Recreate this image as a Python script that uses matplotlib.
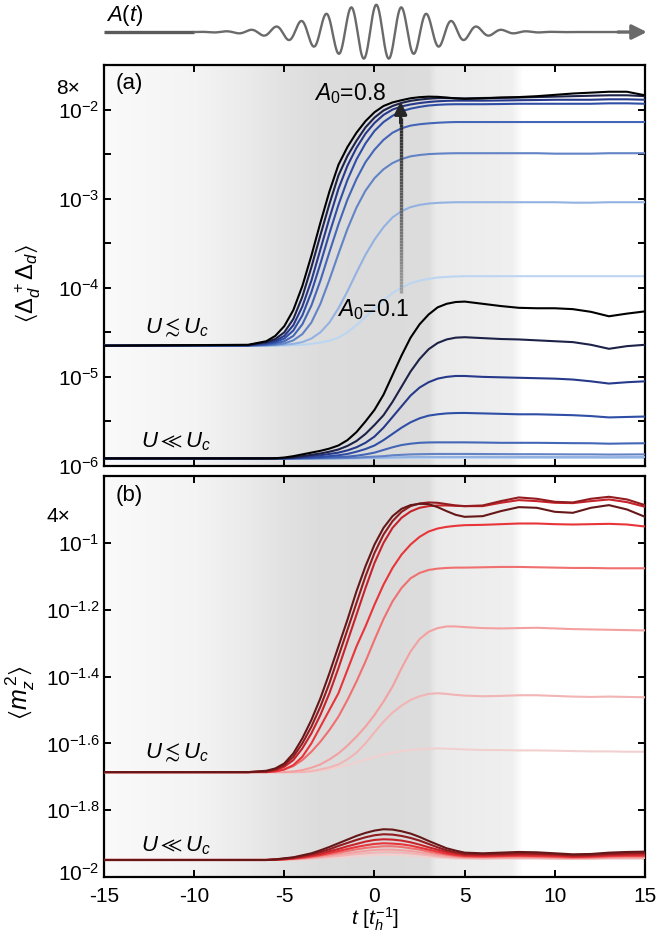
import numpy as np
import matplotlib
matplotlib.use('Agg')
import matplotlib.pyplot as plt
import matplotlib.transforms as mtransforms
from matplotlib.collections import LineCollection
from matplotlib.ticker import FixedLocator, FixedFormatter, NullLocator

plt.rcParams['font.family'] = ['Liberation Sans', 'DejaVu Sans']
plt.rcParams['mathtext.fontset'] = 'custom'
plt.rcParams['mathtext.rm'] = 'Liberation Sans'
plt.rcParams['mathtext.it'] = 'Liberation Sans:italic'
plt.rcParams['mathtext.bf'] = 'Liberation Sans:bold'
plt.rcParams['mathtext.fallback'] = 'stixsans'
plt.rcParams['axes.unicode_minus'] = False

# time grid (units of 1/t_h), shared by every curve
t = [-15, -7, -6, -5.5, -5, -4.5, -4, -3.5, -3, -2.5, -2, -1.5, -1, -0.5, 0, 0.5, 1, 1.5,
     2, 2.5, 3, 3.5, 4, 4.5, 5, 6, 7, 8, 9, 10, 11, 12, 13, 14, 15]
amps = [0.1, 0.2, 0.3, 0.4, 0.5, 0.6, 0.7, 0.8]

# (a) log10 <Delta_d^+ Delta_d>, U close to Uc, A0 = 0.1 ... 0.8
pair_near = [
    [-4.65, -4.65, -4.65, -4.65, -4.65, -4.645, -4.64, -4.63, -4.615, -4.595, -4.56, -4.50, -4.42, -4.33, -4.23, -4.14, -4.06, -4.00,
     -3.95, -3.92, -3.90, -3.885, -3.878, -3.873, -3.87, -3.87, -3.87, -3.87, -3.87, -3.87, -3.87, -3.87, -3.87, -3.87, -3.87],
    [-4.65, -4.65, -4.648, -4.645, -4.64, -4.63, -4.61, -4.57, -4.50, -4.39, -4.23, -4.04, -3.83, -3.63, -3.46, -3.32, -3.21, -3.14,
     -3.095, -3.07, -3.055, -3.047, -3.043, -3.04, -3.04, -3.04, -3.04, -3.04, -3.04, -3.04, -3.045, -3.045, -3.04, -3.04, -3.04],
    [-4.65, -4.65, -4.645, -4.64, -4.625, -4.59, -4.52, -4.39, -4.18, -3.91, -3.62, -3.34, -3.10, -2.91, -2.77, -2.67, -2.60, -2.555,
     -2.525, -2.51, -2.50, -2.495, -2.492, -2.49, -2.49, -2.49, -2.49, -2.49, -2.49, -2.495, -2.495, -2.495, -2.49, -2.49, -2.49],
    [-4.65, -4.648, -4.64, -4.625, -4.60, -4.54, -4.41, -4.20, -3.92, -3.60, -3.29, -3.01, -2.78, -2.59, -2.45, -2.34, -2.26, -2.21,
     -2.18, -2.165, -2.155, -2.148, -2.143, -2.14, -2.14, -2.14, -2.14, -2.14, -2.14, -2.14, -2.14, -2.14, -2.14, -2.14, -2.14],
    [-4.65, -4.646, -4.63, -4.61, -4.57, -4.48, -4.31, -4.05, -3.73, -3.39, -3.07, -2.79, -2.56, -2.38, -2.24, -2.14, -2.07, -2.02,
     -1.99, -1.97, -1.955, -1.947, -1.942, -1.94, -1.94, -1.94, -1.938, -1.935, -1.935, -1.935, -1.935, -1.935, -1.93, -1.93, -1.935],
    [-4.65, -4.645, -4.62, -4.595, -4.54, -4.42, -4.21, -3.92, -3.57, -3.22, -2.89, -2.63, -2.43, -2.27, -2.15, -2.06, -2.00, -1.965,
     -1.943, -1.927, -1.915, -1.907, -1.902, -1.90, -1.90, -1.90, -1.898, -1.895, -1.893, -1.89, -1.89, -1.89, -1.885, -1.885, -1.89],
    [-4.65, -4.643, -4.61, -4.575, -4.50, -4.35, -4.10, -3.77, -3.41, -3.06, -2.74, -2.52, -2.35, -2.20, -2.09, -2.01, -1.96, -1.925,
     -1.902, -1.888, -1.878, -1.872, -1.87, -1.872, -1.875, -1.87, -1.868, -1.865, -1.86, -1.855, -1.85, -1.845, -1.84, -1.84, -1.85],
    [-4.65, -4.64, -4.60, -4.54, -4.43, -4.25, -3.98, -3.64, -3.27, -2.92, -2.62, -2.42, -2.26, -2.13, -2.03, -1.96, -1.92, -1.895,
     -1.873, -1.861, -1.855, -1.857, -1.865, -1.875, -1.88, -1.875, -1.865, -1.86, -1.85, -1.835, -1.82, -1.81, -1.80, -1.80, -1.84],
]

# (a) U much smaller than Uc
pair_weak = [
    [-5.915, -5.915, -5.915, -5.915, -5.915, -5.915, -5.915, -5.915, -5.915, -5.915, -5.915, -5.915, -5.915, -5.914, -5.914, -5.913, -5.912, -5.911,
     -5.91, -5.91, -5.91, -5.91, -5.91, -5.91, -5.91, -5.91, -5.91, -5.91, -5.91, -5.91, -5.91, -5.91, -5.91, -5.91, -5.91],
    [-5.915, -5.915, -5.915, -5.915, -5.915, -5.915, -5.915, -5.915, -5.915, -5.915, -5.914, -5.913, -5.912, -5.91, -5.908, -5.906, -5.904, -5.902,
     -5.90, -5.899, -5.899, -5.898, -5.898, -5.898, -5.898, -5.898, -5.899, -5.899, -5.899, -5.90, -5.90, -5.90, -5.901, -5.90, -5.90],
    [-5.915, -5.915, -5.915, -5.915, -5.915, -5.915, -5.915, -5.915, -5.914, -5.913, -5.912, -5.91, -5.907, -5.90, -5.895, -5.89, -5.88, -5.875,
     -5.87, -5.868, -5.866, -5.865, -5.865, -5.865, -5.865, -5.866, -5.867, -5.868, -5.868, -5.869, -5.87, -5.87, -5.872, -5.871, -5.87],
    [-5.915, -5.915, -5.915, -5.915, -5.915, -5.915, -5.914, -5.912, -5.91, -5.905, -5.90, -5.895, -5.885, -5.87, -5.85, -5.82, -5.79, -5.765,
     -5.75, -5.74, -5.736, -5.735, -5.735, -5.735, -5.735, -5.737, -5.74, -5.74, -5.74, -5.742, -5.744, -5.745, -5.75, -5.747, -5.745],
    [-5.915, -5.915, -5.915, -5.915, -5.915, -5.913, -5.91, -5.905, -5.90, -5.89, -5.88, -5.865, -5.84, -5.81, -5.77, -5.71, -5.64, -5.57,
     -5.51, -5.465, -5.435, -5.42, -5.41, -5.406, -5.405, -5.41, -5.415, -5.42, -5.42, -5.425, -5.43, -5.44, -5.455, -5.45, -5.445],
    [-5.915, -5.915, -5.915, -5.915, -5.914, -5.91, -5.90, -5.89, -5.88, -5.865, -5.85, -5.825, -5.79, -5.74, -5.67, -5.57, -5.45, -5.33,
     -5.21, -5.12, -5.06, -5.02, -5.00, -4.99, -4.99, -5.00, -5.005, -5.01, -5.015, -5.02, -5.03, -5.05, -5.075, -5.06, -5.05],
    [-5.915, -5.915, -5.915, -5.915, -5.912, -5.905, -5.89, -5.875, -5.86, -5.84, -5.815, -5.775, -5.72, -5.64, -5.54, -5.43, -5.28, -5.11,
     -4.94, -4.80, -4.69, -4.62, -4.58, -4.56, -4.555, -4.565, -4.575, -4.58, -4.59, -4.60, -4.61, -4.64, -4.685, -4.655, -4.64],
    [-5.915, -5.915, -5.915, -5.913, -5.905, -5.89, -5.87, -5.85, -5.83, -5.805, -5.77, -5.71, -5.62, -5.50, -5.37, -5.20, -4.98, -4.76,
     -4.56, -4.41, -4.30, -4.22, -4.18, -4.16, -4.155, -4.18, -4.205, -4.225, -4.23, -4.23, -4.24, -4.27, -4.32, -4.29, -4.265],
]

# (b) log10 <m_z^2>, U close to Uc
mag_near = [
    [-1.686, -1.686, -1.686, -1.686, -1.686, -1.686, -1.686, -1.685, -1.682, -1.677, -1.671, -1.665, -1.657, -1.649, -1.641, -1.634, -1.628, -1.624,
     -1.62, -1.618, -1.616, -1.615, -1.616, -1.617, -1.618, -1.62, -1.62, -1.621, -1.621, -1.622, -1.623, -1.624, -1.624, -1.625, -1.625],
    [-1.686, -1.686, -1.686, -1.686, -1.686, -1.686, -1.686, -1.683, -1.678, -1.672, -1.663, -1.648, -1.628, -1.60, -1.567, -1.535, -1.508, -1.487,
     -1.47, -1.459, -1.452, -1.45, -1.452, -1.455, -1.457, -1.459, -1.458, -1.456, -1.456, -1.458, -1.46, -1.461, -1.46, -1.461, -1.462],
    [-1.686, -1.686, -1.686, -1.686, -1.686, -1.684, -1.68, -1.673, -1.663, -1.648, -1.63, -1.607, -1.58, -1.55, -1.515, -1.475, -1.43, -1.375,
     -1.325, -1.288, -1.266, -1.255, -1.25, -1.25, -1.252, -1.255, -1.256, -1.255, -1.254, -1.256, -1.258, -1.259, -1.26, -1.261, -1.262],
    [-1.686, -1.686, -1.685, -1.683, -1.678, -1.668, -1.65, -1.625, -1.595, -1.56, -1.52, -1.47, -1.415, -1.355, -1.29, -1.228, -1.175, -1.135,
     -1.106, -1.09, -1.081, -1.077, -1.075, -1.074, -1.074, -1.073, -1.072, -1.072, -1.073, -1.074, -1.075, -1.075, -1.076, -1.076, -1.076],
    [-1.686, -1.686, -1.686, -1.684, -1.678, -1.665, -1.64, -1.60, -1.55, -1.50, -1.45, -1.38, -1.31, -1.25, -1.185, -1.125, -1.075, -1.035,
     -1.005, -0.982, -0.966, -0.957, -0.952, -0.949, -0.947, -0.946, -0.944, -0.942, -0.942, -0.944, -0.945, -0.944, -0.943, -0.945, -0.951],
    [-1.686, -1.686, -1.685, -1.68, -1.67, -1.65, -1.615, -1.57, -1.515, -1.45, -1.375, -1.295, -1.215, -1.135, -1.06, -1.0, -0.955, -0.925,
     -0.906, -0.895, -0.89, -0.888, -0.888, -0.889, -0.89, -0.89, -0.88, -0.872, -0.875, -0.88, -0.881, -0.875, -0.87, -0.878, -0.892],
    [-1.686, -1.686, -1.684, -1.678, -1.665, -1.64, -1.60, -1.55, -1.49, -1.42, -1.34, -1.26, -1.18, -1.10, -1.03, -0.975, -0.935, -0.907,
     -0.89, -0.882, -0.879, -0.88, -0.884, -0.888, -0.89, -0.888, -0.875, -0.864, -0.868, -0.877, -0.879, -0.868, -0.862, -0.87, -0.887],
    [-1.686, -1.686, -1.682, -1.675, -1.66, -1.63, -1.585, -1.53, -1.465, -1.39, -1.31, -1.23, -1.145, -1.07, -1.005, -0.955, -0.92, -0.898,
     -0.887, -0.883, -0.884, -0.893, -0.905, -0.916, -0.922, -0.92, -0.905, -0.893, -0.895, -0.907, -0.91, -0.895, -0.887, -0.90, -0.922],
]

# (b) U much smaller than Uc
mag_weak = [
    [-1.949, -1.949, -1.949, -1.949, -1.948, -1.948, -1.947, -1.946, -1.944, -1.943, -1.941, -1.939, -1.937, -1.936, -1.935, -1.934, -1.934, -1.935,
     -1.936, -1.938, -1.940, -1.942, -1.943, -1.945, -1.945, -1.946, -1.945, -1.945, -1.945, -1.946, -1.946, -1.946, -1.945, -1.945, -1.945],
    [-1.949, -1.949, -1.949, -1.949, -1.948, -1.947, -1.946, -1.944, -1.942, -1.939, -1.937, -1.934, -1.931, -1.929, -1.927, -1.926, -1.926, -1.927,
     -1.929, -1.932, -1.935, -1.938, -1.940, -1.942, -1.943, -1.944, -1.943, -1.943, -1.943, -1.944, -1.945, -1.944, -1.943, -1.943, -1.943],
    [-1.949, -1.949, -1.949, -1.948, -1.947, -1.946, -1.944, -1.942, -1.939, -1.936, -1.932, -1.929, -1.925, -1.922, -1.919, -1.918, -1.918, -1.920,
     -1.922, -1.926, -1.930, -1.934, -1.937, -1.940, -1.942, -1.942, -1.942, -1.941, -1.941, -1.942, -1.943, -1.943, -1.942, -1.941, -1.941],
    [-1.949, -1.949, -1.949, -1.948, -1.947, -1.945, -1.943, -1.940, -1.936, -1.932, -1.927, -1.922, -1.917, -1.913, -1.910, -1.908, -1.908, -1.910,
     -1.914, -1.918, -1.924, -1.929, -1.933, -1.937, -1.939, -1.940, -1.939, -1.938, -1.939, -1.940, -1.942, -1.941, -1.939, -1.938, -1.938],
    [-1.949, -1.949, -1.949, -1.948, -1.947, -1.945, -1.942, -1.938, -1.934, -1.928, -1.922, -1.916, -1.910, -1.905, -1.901, -1.899, -1.900, -1.902,
     -1.906, -1.912, -1.918, -1.924, -1.930, -1.934, -1.937, -1.938, -1.937, -1.936, -1.937, -1.938, -1.940, -1.939, -1.937, -1.936, -1.936],
    [-1.949, -1.949, -1.949, -1.948, -1.946, -1.943, -1.940, -1.935, -1.930, -1.923, -1.916, -1.908, -1.901, -1.894, -1.889, -1.887, -1.888, -1.891,
     -1.896, -1.903, -1.911, -1.918, -1.925, -1.930, -1.934, -1.935, -1.934, -1.933, -1.933, -1.935, -1.938, -1.937, -1.934, -1.933, -1.932],
    [-1.949, -1.949, -1.949, -1.948, -1.945, -1.942, -1.937, -1.932, -1.925, -1.917, -1.907, -1.898, -1.889, -1.881, -1.875, -1.872, -1.873, -1.877,
     -1.883, -1.891, -1.901, -1.911, -1.920, -1.926, -1.931, -1.932, -1.931, -1.929, -1.930, -1.932, -1.935, -1.934, -1.931, -1.929, -1.928],
    [-1.949, -1.949, -1.949, -1.947, -1.944, -1.941, -1.935, -1.929, -1.920, -1.910, -1.899, -1.888, -1.877, -1.868, -1.861, -1.857, -1.858, -1.863,
     -1.870, -1.880, -1.892, -1.903, -1.914, -1.921, -1.927, -1.929, -1.927, -1.925, -1.926, -1.929, -1.932, -1.931, -1.927, -1.925, -1.924],
]

blues = ['#bcd6f2', '#93b2e2', '#6283c6', '#4466b6', '#2f4ea6', '#27398a', '#1d2248', '#000000']
reds = ['#f2d0d0', '#f2b4b4', '#f4a0a0', '#f07070', '#e8353a', '#c8232a', '#921c20', '#661818']

# pump pulse sketch A(t): gaussian envelope times carrier
pulse_center = 0.1
pulse_sigma = 3.1
pulse_period = 1.39

# grey shading behind the curves (follows the pump envelope)
bg_t = [-15, -10, -7, -5, -3, 0, 3.0, 3.4, 7.6, 8.2, 15]
bg_g = [0.98, 0.955, 0.92, 0.885, 0.865, 0.86, 0.865, 0.92, 0.94, 1.0, 1.0]

fig = plt.figure(figsize=(6.7, 9.34), dpi=100)
ax_a = fig.add_axes([0.1552, 0.5011, 0.8075, 0.4293])
ax_b = fig.add_axes([0.1552, 0.0610, 0.8075, 0.4293])
ax_p = fig.add_axes([0.1552, 0.9336, 0.8075, 0.0642])

tt = np.linspace(-15, 15, 800)
shade = np.interp(tt, bg_t, bg_g)
shade_img = np.repeat(shade[None, :, None], 3, axis=2)


def setup(ax, ylo, yhi):
    ax.imshow(shade_img, extent=[0, 1, 0, 1], transform=ax.transAxes,
              aspect='auto', zorder=0, interpolation='bilinear')
    ax.set_yscale('log')
    ax.set_xlim(-15, 15)
    ax.set_ylim(10 ** ylo, 10 ** yhi)
    ax.yaxis.set_minor_locator(NullLocator())
    ax.set_xticks([-15, -10, -5, 0, 5, 10, 15])
    ax.tick_params(which='major', direction='in', length=5, width=1.4,
                   top=True, right=True, labelsize=15)
    ax.tick_params(axis='x', pad=7)
    ax.tick_params(axis='y', pad=3)
    for s in ax.spines.values():
        s.set_linewidth(1.6)


setup(ax_a, -6, -1.5)
setup(ax_b, -2, -0.8)

tv = np.array(t)
for i in range(len(amps)):
    ax_a.plot(tv, 10 ** np.array(pair_near[i]), color=blues[i], lw=1.5, zorder=2 + i)
    ax_a.plot(tv, 10 ** np.array(pair_weak[i]), color=blues[i], lw=1.5, zorder=2 + i)
    ax_b.plot(tv, 10 ** np.array(mag_near[i]), color=reds[i], lw=1.5, zorder=2 + i)
    ax_b.plot(tv, 10 ** np.array(mag_weak[i]), color=reds[i], lw=1.5, zorder=2 + i)

# y ticks
a_exp = np.arange(-6, -1.49, 0.5)
ax_a.yaxis.set_major_locator(FixedLocator(10 ** a_exp))
ax_a.yaxis.set_major_formatter(FixedFormatter(
    [r'$10^{%d}$' % e if e == int(e) else '' for e in a_exp]))
ax_a.set_xticklabels([])

b_exp = [-2, -1.8, -1.6, -1.4, -1.2, -1]
b_lab = [r'$10^{-2}$', r'$10^{-1.8}$', r'$10^{-1.6}$', r'$10^{-1.4}$', r'$10^{-1.2}$', r'$10^{-1}$']
ax_b.yaxis.set_major_locator(FixedLocator(10 ** np.array(b_exp)))
ax_b.yaxis.set_major_formatter(FixedFormatter(b_lab))

# lift the lowest label of (b) a little, clear of the "-15" below it
low = ax_b.yaxis.get_major_ticks()[0].label1
low.set_transform(low.get_transform() +
                  mtransforms.ScaledTranslation(0, 4 / 72, fig.dpi_scale_trans))

ax_a.set_ylabel(r'$\langle\Delta_d^{\,+}\Delta_d\rangle$', fontsize=17)
ax_a.yaxis.set_label_coords(-0.113, 0.456)
ax_b.set_ylabel(r'$\langle m_z^{\,2}\rangle$', fontsize=18)
ax_b.yaxis.set_label_coords(-0.124, 0.459)
ax_b.set_xlabel(r'$t$ [$t_h^{-1}$]', fontsize=15)
ax_b.xaxis.set_label_coords(0.5, -0.072)

fig.text(0.119, 1 - 88 / 934, '8×', ha='right', va='center', fontsize=15)
fig.text(0.105, 1 - 517 / 934, '4×', ha='right', va='center', fontsize=15)

ax_a.text(-14.35, 10 ** -1.705, '(a)', fontsize=16, va='center', zorder=20)
ax_b.text(-14.35, 10 ** -0.857, '(b)', fontsize=16, va='center', zorder=20)

ax_a.text(-12.7, 10 ** -4.51, r'$U\lesssim U_c$', fontsize=16, va='baseline', zorder=20)
ax_a.text(-12.95, 10 ** -5.79, r'$U\ll U_c$', fontsize=16, va='baseline', zorder=20)
ax_b.text(-12.7, 10 ** -1.645, r'$U\lesssim U_c$', fontsize=16, va='baseline', zorder=20)
ax_b.text(-12.95, 10 ** -1.922, r'$U\ll U_c$', fontsize=16, va='baseline', zorder=20)

ax_a.text(-3.35, 10 ** -1.817, r'$A_0$=0.8', fontsize=16.5, va='center', zorder=20)
ax_a.text(-2.1, 10 ** -4.25, r'$A_0$=0.1', fontsize=16.5, va='center', zorder=20)

# amplitude arrow with grey-to-black gradient
ys = np.logspace(-4.06, -2.1, 60)
pts = np.column_stack([np.full_like(ys, 1.45), ys])
segs = np.stack([pts[:-1], pts[1:]], axis=1)
cols = [(g, g, g) for g in np.linspace(0.62, 0.15, len(segs))]
ax_a.add_collection(LineCollection(segs, colors=cols, lw=2.4, zorder=15))
ax_a.annotate('', xy=(1.45, 10 ** -1.91), xytext=(1.45, 10 ** -2.15),
              arrowprops=dict(arrowstyle='-|>', color='#262626', lw=2.4,
                              mutation_scale=18, shrinkA=0, shrinkB=0), zorder=16)

# pump pulse sketch
ax_p.set_xlim(-15, 15)
ax_p.set_ylim(-1.1, 1.1)
ax_p.axis('off')
tp = np.linspace(-10, 13.6, 1500)
ap = np.exp(-(tp - pulse_center) ** 2 / (2 * pulse_sigma ** 2)) * \
    np.cos(2 * np.pi * (tp - pulse_center) / pulse_period)
ax_p.plot([-15, -10], [0, 0], color='#5a5a5a', lw=2.4, solid_capstyle='butt')
ax_p.plot(tp, ap, color='#6a6a6a', lw=1.7)
ax_p.annotate('', xy=(15.1, 0), xytext=(13.5, 0),
              arrowprops=dict(arrowstyle='-|>', color='#6a6a6a', lw=2.4,
                              mutation_scale=22, shrinkA=0, shrinkB=0),
              annotation_clip=False)
ax_p.text(-14.9, 0.62, r'$A(t)$', fontsize=16, va='center')

fig.savefig('out.png', dpi=100)
